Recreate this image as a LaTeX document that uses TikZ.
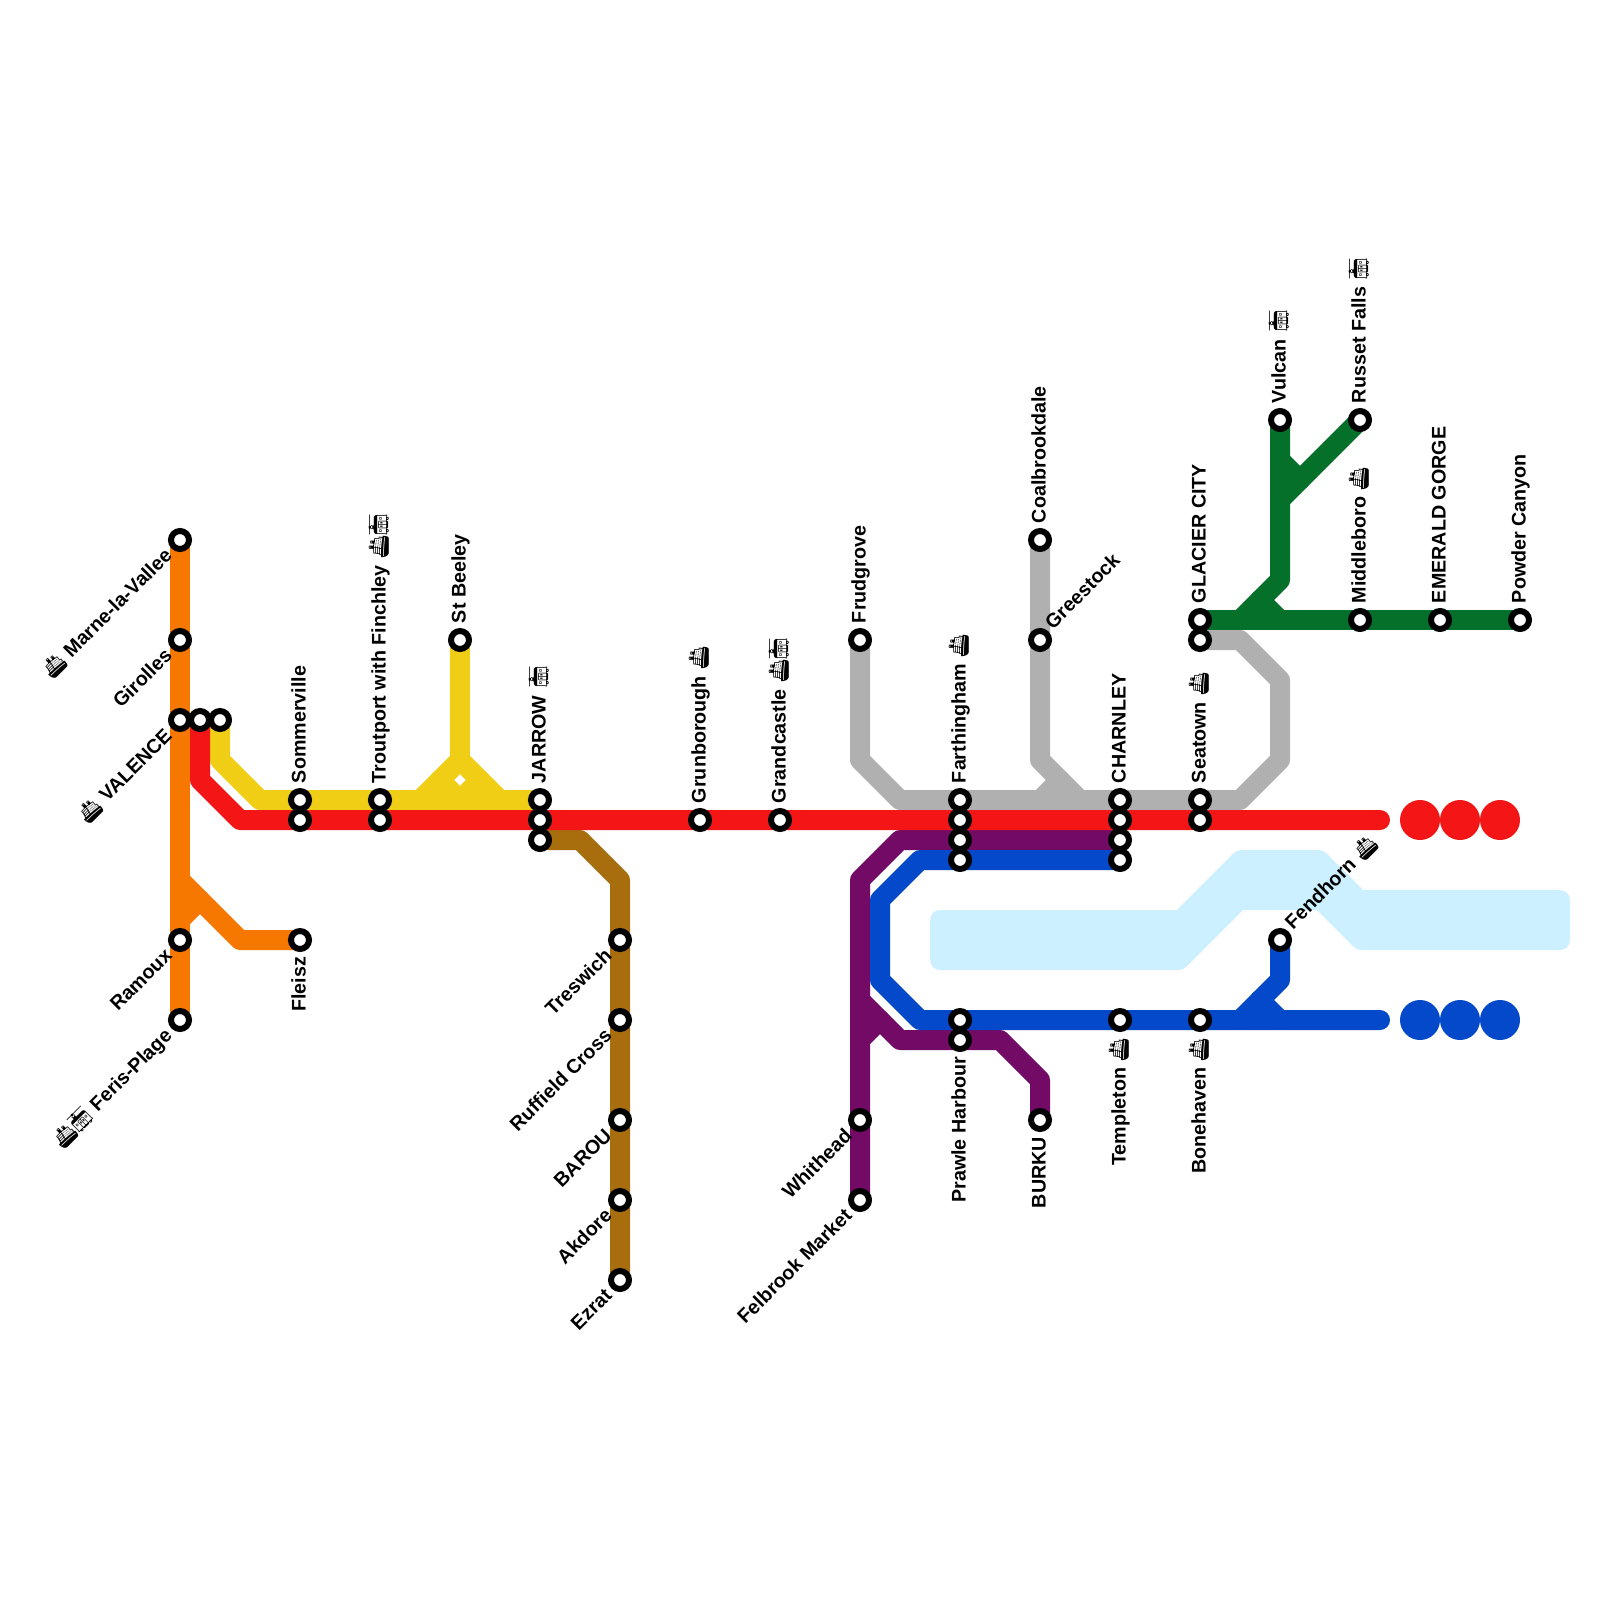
\documentclass[tikz,border=0pt]{standalone}
\usepackage{fontspec}
\usetikzlibrary{calc}
\setmainfont{Liberation Sans}
\newfontfamily\emofont{Noto Emoji}
\newcommand{\shipicon}{{\emofont\symbol{"1F6A2}}}
\newcommand{\tramicon}{{\emofont\symbol{"1F68B}}}
\newcommand{\icongap}{\hspace{-3pt}}
\pgfdeclarelayer{bg}
\pgfsetlayers{bg,main}
\definecolor{cOrange}{HTML}{F67800}
\definecolor{cRed}{HTML}{F41616}
\definecolor{cYellow}{HTML}{F0CE15}
\definecolor{cBrown}{HTML}{A86D0C}
\definecolor{cGrey}{HTML}{B0B0B0}
\definecolor{cPurple}{HTML}{720A66}
\definecolor{cBlue}{HTML}{0349C9}
\definecolor{cGreen}{HTML}{05702A}
\definecolor{cRiver}{HTML}{CCF0FF}
\tikzset{
  stn/.style={circle,draw=black,fill=white,line width=6pt,minimum size=18pt,inner sep=0pt},
  metro/.style={line width=20pt,line cap=round,line join=round},
  blob/.style={circle,inner sep=0pt,minimum size=40pt,outer sep=0pt},
  lbl/.style={font=\fontsize{19.7}{24}\selectfont\bfseries,inner sep=0pt,outer sep=0pt,text=black},
  lup/.style={xshift=5.5pt,yshift=17pt,rotate=90,anchor=base west,lbl},
  ldown/.style={xshift=5.5pt,yshift=-17pt,rotate=90,anchor=base east,lbl},
  ldl/.style={xshift=-7pt,yshift=-17pt,rotate=45,anchor=base east,lbl},
  lur/.style={xshift=13pt,yshift=10pt,rotate=45,anchor=base west,lbl},
}
\begin{document}
\begin{tikzpicture}[x=1pt,y=-1pt]
\useasboundingbox (0,0) rectangle (1600,1600);
% stations
\foreach \n/\x/\y in {marne/180/540,girolles/180/640,valence/180/720,vb/200/720,vc/220/720,
 somma/300/800,sommb/300/820,trouta/380/800,troutb/380/820,beeley/460/640,
 jara/540/800,jarb/540/820,jarc/540/840,grun/700/820,grand/780/820,frud/860/640,
 fara/960/800,farb/960/820,farc/960/840,fard/960/860,coal/1040/540,gree/1040/640,
 chaa/1120/800,chab/1120/820,chac/1120/840,chad/1120/860,seaa/1200/800,seab/1200/820,
 glaa/1200/620,glab/1200/640,vulcan/1280/420,russet/1360/420,middle/1360/620,
 emerald/1440/620,powder/1520/620,fend/1280/940,temple/1120/1020,bone/1200/1020,
 prawa/960/1020,prawb/960/1040,burku/1040/1120,white/860/1120,felb/860/1200,
 tres/620/940,ruff/620/1020,barou/620/1120,akd/620/1200,ezrat/620/1280,
 ramoux/180/940,feris/180/1020,fleisz/300/940}
 {\node[stn] (\n) at (\x,\y) {};}
% terminal discs
\node[blob,fill=cRed] (ra) at (1420,820) {};
\node[blob,fill=cRed] (rb) at (1460,820) {};
\node[blob,fill=cRed] (rc) at (1500,820) {};
\node[blob,fill=cBlue] (ba) at (1420,1020) {};
\node[blob,fill=cBlue] (bb) at (1460,1020) {};
\node[blob,fill=cBlue] (bc) at (1500,1020) {};
\coordinate (redend) at (1380,820);
\coordinate (blueend) at (1380,1020);
\begin{pgfonlayer}{bg}
\fill[cRiver,draw=cRiver,line width=20pt,line join=round]
 (940,920)--(1181.1,920)--(1241.1,860)--(1318.9,860)--(1358.9,900)--(1560,900)--(1560,940)
 --(1361.1,940)--(1321.1,900)--(1238.9,900)--(1178.9,960)--(940,960)--cycle;
% orange
\draw[metro,cOrange] (marne.center)--(girolles.center)--(valence.center)--(ramoux.center)--(feris.center);
\draw[metro,cOrange] (180,880)--(240,940)--(fleisz.center);
\draw[metro,cOrange] (180,920)--(200,900);
% yellow
\draw[metro,cYellow] (vc.center)--(220,760)--(260,800)--(somma.center)--(trouta.center)--(jara.center);
\draw[metro,cYellow] (beeley.center)--(460,760);
\draw[metro,cYellow] (420,800)--(460,760)--(500,800);
\draw[metro,cYellow] (440,780)--(460,800)--(480,780);
% brown
\draw[metro,cBrown] (jarc.center)--(580,840)--(620,880)--(tres.center)--(ruff.center)--(barou.center)--(akd.center)--(ezrat.center);
% grey
\draw[metro,cGrey] (frud.center)--(860,760)--(900,800)--(fara.center)--(chaa.center)--(seaa.center)--(1240,800)--(1280,760)--(1280,680)--(1240,640)--(glab.center);
\draw[metro,cGrey] (coal.center)--(gree.center)--(1040,760)--(1080,800);
\draw[metro,cGrey] (1040,800)--(1060,780);
% purple
\draw[metro,cPurple] (felb.center)--(white.center)--(860,880)--(900,840)--(farc.center)--(chac.center);
\draw[metro,cPurple] (860,1000)--(900,1040)--(prawb.center)--(1000,1040)--(1040,1080)--(burku.center);
\draw[metro,cPurple] (860,1040)--(880,1020);
% blue
\draw[metro,cBlue] (chad.center)--(fard.center)--(920,860)--(880,900)--(880,980)--(920,1020)--(prawa.center)--(temple.center)--(bone.center)--(blueend);
\draw[metro,cBlue] (fend.center)--(1280,980)--(1240,1020);
\draw[metro,cBlue] (1260,1000)--(1280,1020);
% green
\draw[metro,cGreen] (glaa.center)--(middle.center)--(emerald.center)--(powder.center);
\draw[metro,cGreen] (vulcan.center)--(1280,580)--(1240,620);
\draw[metro,cGreen] (1260,600)--(1280,620);
\draw[metro,cGreen] (russet.center)--(1280,500);
\draw[metro,cGreen] (1280,460)--(1300,480);
% red
\draw[metro,cRed] (vb.center)--(200,780)--(240,820)--(sommb.center)--(troutb.center)--(jarb.center)--(grun.center)--(grand.center)--(farb.center)--(chab.center)--(seab.center)--(redend);
\end{pgfonlayer}
% labels
\node[ldl] (l1) at (marne) {\shipicon\ Marne-la-Vallee};
\node[ldl] (l2) at (girolles) {Girolles};
\node[ldl] (l3) at (valence) {\shipicon\ VALENCE};
\node[ldl] (l4) at (ramoux) {Ramoux};
\node[ldl] (l5) at (feris) {\shipicon\icongap\tramicon\ Feris-Plage};
\node[ldown] (l6) at (fleisz) {Fleisz};
\node[lup] (l7) at (somma) {Sommerville};
\node[lup] (l8) at (trouta) {Troutport with Finchley\ \shipicon\icongap\tramicon};
\node[lup] (l9) at (beeley) {St Beeley};
\node[lup] (l10) at (jara) {JARROW\ \tramicon};
\node[lup] (l11) at (grun) {Grunborough\ \shipicon};
\node[lup] (l12) at (grand) {Grandcastle\ \shipicon\icongap\tramicon};
\node[lup] (l13) at (frud) {Frudgrove};
\node[lup] (l14) at (fara) {Farthingham\ \shipicon};
\node[lup] (l15) at (coal) {Coalbrookdale};
\node[lur] (l16) at (gree) {Greestock};
\node[lup] (l17) at (chaa) {CHARNLEY};
\node[lup] (l18) at (seaa) {Seatown\ \shipicon};
\node[lup] (l19) at (glaa) {GLACIER CITY};
\node[lup] (l20) at (vulcan) {Vulcan\ \tramicon};
\node[lup] (l21) at (russet) {Russet Falls\ \tramicon};
\node[lup] (l22) at (middle) {Middleboro\ \shipicon};
\node[lup] (l23) at (emerald) {EMERALD GORGE};
\node[lup] (l24) at (powder) {Powder Canyon};
\node[lur] (l25) at (fend) {Fendhorn\ \shipicon};
\node[ldown] (l26) at (temple) {Templeton\ \shipicon};
\node[ldown] (l27) at (bone) {Bonehaven\ \shipicon};
\node[ldown] (l28) at (prawb) {Prawle Harbour};
\node[ldown] (l29) at (burku) {BURKU};
\node[ldl] (l30) at (white) {Whithead};
\node[ldl] (l31) at (felb) {Felbrook Market};
\node[ldl] (l32) at (tres) {Treswich};
\node[ldl] (l33) at (ruff) {Ruffield Cross};
\node[ldl] (l34) at (barou) {BAROU};
\node[ldl] (l35) at (akd) {Akdore};
\node[ldl] (l36) at (ezrat) {Ezrat};
\end{tikzpicture}
\end{document}
